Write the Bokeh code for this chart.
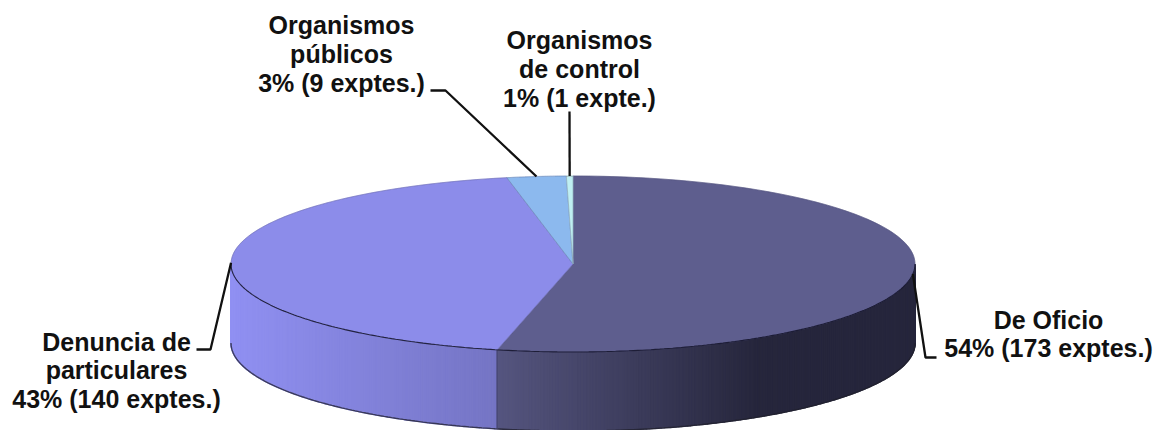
import numpy as np
from bokeh.plotting import figure
from bokeh.embed import file_html
from bokeh.resources import INLINE
from bokeh.core.properties import value

categories = ["De Oficio", "Denuncia de particulares", "Organismos públicos", "Organismos de control"]
expedientes = [173, 140, 9, 1]
top_colors = ["#5E5E8E", "#8C8CEA", "#8CB9EE", "#BFEFF2"]
side_from = ["#55557F", "#9090F2", "#8CB9EE", "#BFEFF2"]
side_to = ["#26263C", "#7575C4", "#8CB9EE", "#BFEFF2"]
label_lines = [["De Oficio", "54% (173 exptes.)"],
               ["Denuncia de", "particulares", "43% (140 exptes.)"],
               ["Organismos", "públicos", "3% (9 exptes.)"],
               ["Organismos", "de control", "1% (1 expte.)"]]
label_x = [1048, 116, 341, 579]
label_y = [319, 341, 24.5, 39.5]
leader_tail = [[(925, 357), (936, 357)], [(210, 349), (196, 349)],
               [(445, 90), (430, 90)], [(569, 111)]]

CX, CY, RX, RY, DEPTH = 572.5, 263.5, 342, 88, 79
FONT = "Liberation Sans"
LINE_H = 28.8

p = figure(width=1156, height=430, x_range=(0, 1156), y_range=(430, 0),
           output_backend="svg", toolbar_location=None, min_border=0,
           outline_line_color=None, background_fill_color="white")
p.axis.visible = False
p.xaxis.visible = False
p.yaxis.visible = False
p.grid.visible = False


def ex(a):
    return CX + RX * np.sin(a)


def ey(a):
    return CY - RY * np.cos(a)


def mix(c1, c2, t):
    a = [int(c1[i:i + 2], 16) for i in (1, 3, 5)]
    b = [int(c2[i:i + 2], 16) for i in (1, 3, 5)]
    return "#%02x%02x%02x" % tuple(int(round(u + (v - u) * t)) for u, v in zip(a, b))


total = sum(expedientes)
edges = np.concatenate([[0], np.cumsum(expedientes)]) / total * 2 * np.pi

# side wall: narrow vertical strips along the front half of the rim
for i in range(len(expedientes)):
    lo = max(edges[i], np.pi / 2)
    hi = min(edges[i + 1], 3 * np.pi / 2)
    if hi <= lo:
        continue
    n = 200
    ang = np.linspace(lo, hi, n + 1)
    xs, ys, cols = [], [], []
    x_lo, x_hi = ex(lo), ex(hi)
    for k in range(n):
        a0, a1 = ang[k], ang[k + 1]
        xs.append([ex(a0), ex(a1), ex(a1), ex(a0)])
        ys.append([ey(a0), ey(a1), ey(a1) + DEPTH, ey(a0) + DEPTH])
        xm = (ex(a0) + ex(a1)) / 2
        t = np.clip((xm - min(x_lo, x_hi)) / abs(x_hi - x_lo), 0, 1)
        if i == 0:  # dark side reaches its darkest before the right end
            t = np.clip((xm - x_hi) / (0.62 * (x_lo - x_hi)), 0, 1)
        cols.append(mix(side_from[i], side_to[i], t))
    p.patches(xs, ys, fill_color=cols, line_color=cols, line_width=1.5)

# bottom edge, side silhouette and slice joint on the wall
front = np.linspace(np.pi / 2, 3 * np.pi / 2, 240)
p.line(ex(front), ey(front) + DEPTH, line_color="#20202c", line_width=1.4, line_alpha=0.75)
p.line([ex(edges[1])] * 2, [ey(edges[1]), ey(edges[1]) + DEPTH], line_color="#3c3c5c", line_width=1.2)

# top face
for i in range(len(expedientes)):
    ang = np.linspace(edges[i], edges[i + 1], 150)
    xs = np.concatenate([[CX], ex(ang)])
    ys = np.concatenate([[CY], ey(ang)])
    p.patch(xs, ys, fill_color=top_colors[i], line_color=top_colors[i], line_width=0.6)
    p.line(np.append(xs, CX), np.append(ys, CY), line_color="#4c4c70", line_width=0.5, line_alpha=0.55)

# dark rim in front of the top face
p.line(ex(front), ey(front), line_color="#14142a", line_width=1.1, line_alpha=0.85)

# leader lines start at each slice's middle angle
for i in range(len(expedientes)):
    mid = (edges[i] + edges[i + 1]) / 2
    pts = [(float(ex(mid)), float(ey(mid)))] + leader_tail[i]
    p.line([q[0] for q in pts], [q[1] for q in pts], line_color="#111111", line_width=2.3)

# labels
for i, lines in enumerate(label_lines):
    for j, txt in enumerate(lines):
        p.text([label_x[i]], [label_y[i] + j * LINE_H], text=[txt],
               text_font=value(FONT), text_font_style="bold", text_font_size="25px",
               text_color="#111111", text_align="center", text_baseline="middle")

open("out.html", "w").write(file_html(p, INLINE))
